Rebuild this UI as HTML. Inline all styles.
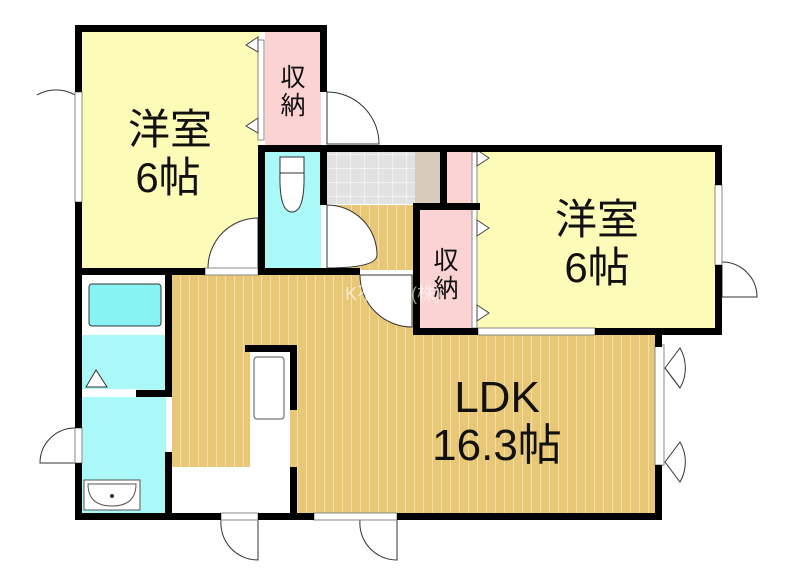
<!DOCTYPE html>
<html><head><meta charset="utf-8"><style>
html,body{margin:0;padding:0;background:#fff;width:800px;height:585px;overflow:hidden}
text{font-family:"Liberation Sans","Noto Sans CJK JP",sans-serif;fill:#111}
</style></head><body>
<svg width="800" height="585" viewBox="0 0 800 585" xmlns="http://www.w3.org/2000/svg">
<defs>
<pattern id="wood" width="9" height="10" patternUnits="userSpaceOnUse">
<rect width="9" height="10" fill="#e8c777"/><rect x="0" width="1" height="10" fill="#f3dfa8"/>
</pattern>
<pattern id="tile" width="14" height="14" patternUnits="userSpaceOnUse">
<rect width="14" height="14" fill="#e2e2e2"/><path d="M0 0H14M0 0V14" stroke="#fff" stroke-width="1"/>
</pattern>
</defs>
<!-- floors -->
<rect x="82" y="32" width="178" height="238" fill="#fdfbb8"/>
<rect x="265" y="32" width="56" height="114" fill="#fbd3d3"/>
<rect x="265" y="152" width="56" height="116" fill="#aaf8f8"/>
<rect x="327" y="152" width="88" height="52" fill="url(#tile)"/>
<rect x="415" y="152" width="25" height="52" fill="#d7c9bb"/>
<rect x="447" y="152" width="25" height="52" fill="#fbd3d3"/>
<rect x="327" y="205" width="88" height="65" fill="url(#wood)"/>
<rect x="172" y="275" width="485" height="238" fill="url(#wood)"/>
<rect x="476" y="152" width="240" height="177" fill="#fdfbb8"/>
<rect x="420" y="210" width="56" height="119" fill="#fbd3d3"/>
<rect x="82" y="275" width="84" height="60" fill="#fff"/>
<rect x="89" y="284" width="72" height="42" rx="3" fill="#88f3f3" stroke="#333" stroke-width="1"/>
<rect x="82" y="335" width="84" height="56" fill="#aaf8f8"/>
<rect x="82" y="397" width="84" height="116" fill="#aaf8f8"/>
<!-- kitchen -->
<rect x="250" y="352" width="40" height="160" fill="#fff"/>
<rect x="172" y="467" width="118" height="46" fill="#fff"/>
<rect x="254" y="357" width="30" height="62" rx="3" fill="#fff" stroke="#555"/>
<!-- sink -->
<rect x="84" y="480" width="56" height="30" fill="#fff" stroke="#555"/>
<path d="M88 484 H136 Q136 506 112 506 Q88 506 88 484Z" fill="#fff" stroke="#555"/>
<circle cx="112" cy="496" r="2" fill="#333"/>
<!-- laundry triangle -->
<path d="M86 387 L96 370 L107 387Z" fill="#fff" stroke="#333"/>
<rect x="82" y="389" width="55" height="6" fill="#fff"/>
<!-- toilet -->
<rect x="280" y="157" width="24" height="16" fill="#fff" stroke="#333"/>
<path d="M280 173 Q279 212 292 212 Q305 212 304 173Z" fill="#fff" stroke="#333"/>
<!-- door swings -->
<g fill="#fff" stroke="#333" stroke-width="1">
<path d="M327 92 A52 52 0 0 1 379 144 H327Z"/>
<path d="M258 218 A50 50 0 0 0 208 268 H258Z"/>
<path d="M327 205 A50 50 0 0 1 377 255 Q377 268 327 268Z"/>
<path d="M360 275 A52 52 0 0 0 412 327 V275Z"/>
<path d="M75 95 A38 38 0 0 0 37 95" fill="none"/>
<path d="M75 428 A35 35 0 0 0 40 463 H75Z"/>
<path d="M722 262 A35 35 0 0 1 757 297 H722Z"/>
<path d="M258 520 V560 A37 37 0 0 1 221 520Z"/>
<path d="M397 520 V560 A37 37 0 0 1 360 520Z"/>
<path d="M665 368 L680 348 A40 40 0 0 1 680 388Z"/>
<path d="M665 462 L680 442 A40 40 0 0 1 680 482Z"/>
<path d="M665 368 L680 388" fill="none"/>
</g>
<!-- windows -->
<g fill="#fff" stroke="#888" stroke-width="1">
<rect x="75" y="92" width="7" height="110"/>
<rect x="715" y="185" width="7" height="80"/>
<rect x="478" y="328" width="117" height="7"/>
<rect x="655" y="345" width="9" height="120"/>
<rect x="314" y="513" width="83" height="7"/>
<rect x="221" y="513" width="37" height="7"/>
<rect x="205" y="268" width="53" height="7"/>
<rect x="75" y="428" width="7" height="35"/>
<rect x="258" y="40" width="6" height="100"/>
<rect x="472" y="152" width="5" height="176"/>
</g>
<!-- closet triangles -->
<g fill="#fff" stroke="#444">
<path d="M258 37 L246 45 L258 52Z"/><path d="M258 118 L246 126 L258 133Z"/>
<path d="M477 150 L489 158 L477 166Z"/><path d="M477 220 L489 228 L477 236Z"/><path d="M477 305 L489 313 L477 321Z"/>
</g>
<!-- walls -->
<g fill="#000">
<rect x="75" y="25" width="252" height="7"/>
<rect x="75" y="25" width="7" height="67"/>
<rect x="75" y="202" width="7" height="226"/>
<rect x="75" y="463" width="7" height="57"/>
<rect x="320" y="25" width="7" height="67"/>
<rect x="258" y="145" width="69" height="7"/>
<rect x="327" y="145" width="395" height="7"/>
<rect x="258" y="145" width="7" height="125"/>
<rect x="320" y="145" width="7" height="60"/>
<rect x="440" y="145" width="7" height="65"/>
<rect x="715" y="145" width="7" height="40"/>
<rect x="715" y="265" width="7" height="70"/>
<rect x="413" y="203" width="67" height="7"/>
<rect x="413" y="203" width="7" height="132"/>
<rect x="413" y="328" width="65" height="7"/>
<rect x="595" y="328" width="127" height="7"/>
<rect x="655" y="335" width="7" height="12"/>
<rect x="655" y="465" width="7" height="55"/>
<rect x="82" y="268" width="123" height="7"/>
<rect x="258" y="268" width="102" height="7"/>
<rect x="165" y="268" width="7" height="129"/>
<rect x="136" y="390" width="36" height="7"/>
<rect x="165" y="452" width="7" height="68"/>
<rect x="75" y="513" width="146" height="7"/>
<rect x="258" y="513" width="56" height="7"/>
<rect x="397" y="513" width="265" height="7"/>
<rect x="245" y="345" width="52" height="7"/>
<rect x="290" y="345" width="7" height="65"/>
<rect x="290" y="467" width="7" height="53"/>
</g>
<!-- labels -->
<text x="170" y="144" font-size="42" text-anchor="middle">洋室</text>
<text x="168" y="192" font-size="42" text-anchor="middle">6帖</text>
<text x="597" y="234" font-size="42" text-anchor="middle">洋室</text>
<text x="597" y="282" font-size="42" text-anchor="middle">6帖</text>
<text x="497" y="412" font-size="44" text-anchor="middle">LDK</text>
<text x="497" y="460" font-size="44" text-anchor="middle">16.3帖</text>
<text x="293" y="86" font-size="25" text-anchor="middle">収</text>
<text x="293" y="114" font-size="25" text-anchor="middle">納</text>
<text x="446" y="269" font-size="25" text-anchor="middle">収</text>
<text x="446" y="297" font-size="25" text-anchor="middle">納</text>
<text x="345" y="300" font-size="18" style="fill:#fff" opacity="0.6">K不動産(株)</text>
</svg>
</body></html>
